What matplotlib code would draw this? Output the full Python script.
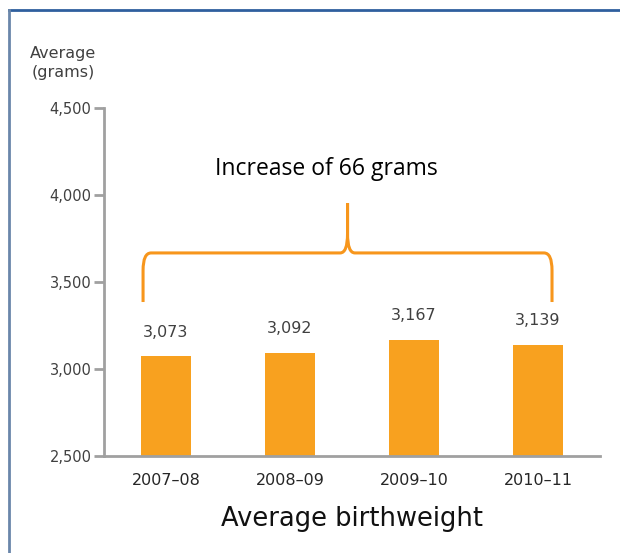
import matplotlib.pyplot as plt
from matplotlib.path import Path
from matplotlib.patches import PathPatch
from matplotlib.lines import Line2D

plt.rcParams['font.family'] = 'DejaVu Sans'

years = ["2007\u201308", "2008\u201309", "2009\u201310", "2010\u201311"]
weights = [3073, 3092, 3167, 3139]
yticks = [2500, 3000, 3500, 4000, 4500]

bar_color = "#F8A11F"
axis_color = "#A0A0A0"
text_color = "#404040"

fig = plt.figure(figsize=(6.2, 5.53), dpi=100)
ax = fig.add_axes([104/620, 1-456/553, 496/620, 348/553])

x = range(len(years))
ax.bar(x, weights, width=0.41, color=bar_color, zorder=2)
for xi, w in zip(x, weights):
    ax.text(xi, w + 95, f"{w:,}", ha="center", va="bottom", fontsize=11.5, color=text_color)

ax.set_xlim(-0.5, 3.5)
ax.set_ylim(2500, 4500)
ax.set_yticks(yticks)
ax.set_yticklabels([f"{t:,}" for t in yticks], fontsize=10.5, color=text_color)
ax.set_xticks(list(x))
ax.set_xticklabels(years, fontsize=11.5, color="#262626")
ax.tick_params(axis="x", length=0, pad=12)
ax.tick_params(axis="y", length=7, width=2, color=axis_color, pad=2)
for s in ["top", "right"]:
    ax.spines[s].set_visible(False)
for s in ["left", "bottom"]:
    ax.spines[s].set_color(axis_color)
    ax.spines[s].set_linewidth(2)
ax.set_xlabel("Average birthweight", fontsize=18.5, color="#111111", labelpad=13)

# bracket
x0, x1 = -0.185, 3.113
xp = (x0 + x1) / 2
ybot, yh, ypk = 3385, 3667, 3954
dx, dy = 0.065, 100
dx2, dy2 = 0.06, 110
verts = [(x0, ybot), (x0, yh - dy), (x0, yh), (x0 + dx, yh),
         (xp - dx2, yh), (xp, yh), (xp, yh + dy2), (xp, ypk),
         (xp, yh + dy2), (xp, yh), (xp + dx2, yh),
         (x1 - dx, yh), (x1, yh), (x1, yh - dy), (x1, ybot)]
codes = [Path.MOVETO, Path.LINETO, Path.CURVE3, Path.CURVE3,
         Path.LINETO, Path.CURVE3, Path.CURVE3, Path.LINETO,
         Path.LINETO, Path.CURVE3, Path.CURVE3,
         Path.LINETO, Path.CURVE3, Path.CURVE3, Path.LINETO]
ax.add_patch(PathPatch(Path(verts, codes), fill=False, edgecolor="#F7961C",
                       linewidth=2.2, clip_on=False))
ax.text(1.29, 4150, "Increase of 66 grams", ha="center", va="center",
        fontsize=16.5, family="Open Sans", color="black")

fig.text(63/620, 1-63/553, "Average\n(grams)", ha="center", va="center",
         fontsize=11.5, color=text_color, linespacing=1.3)

# frame lines
fig.add_artist(Line2D([9/620, 1], [1-10/553, 1-10/553], color="#2F5F9E", linewidth=2))
fig.add_artist(Line2D([9/620, 9/620], [0, 1-10/553], color="#6A86AA", linewidth=2))

fig.savefig("out.png", dpi=100)
